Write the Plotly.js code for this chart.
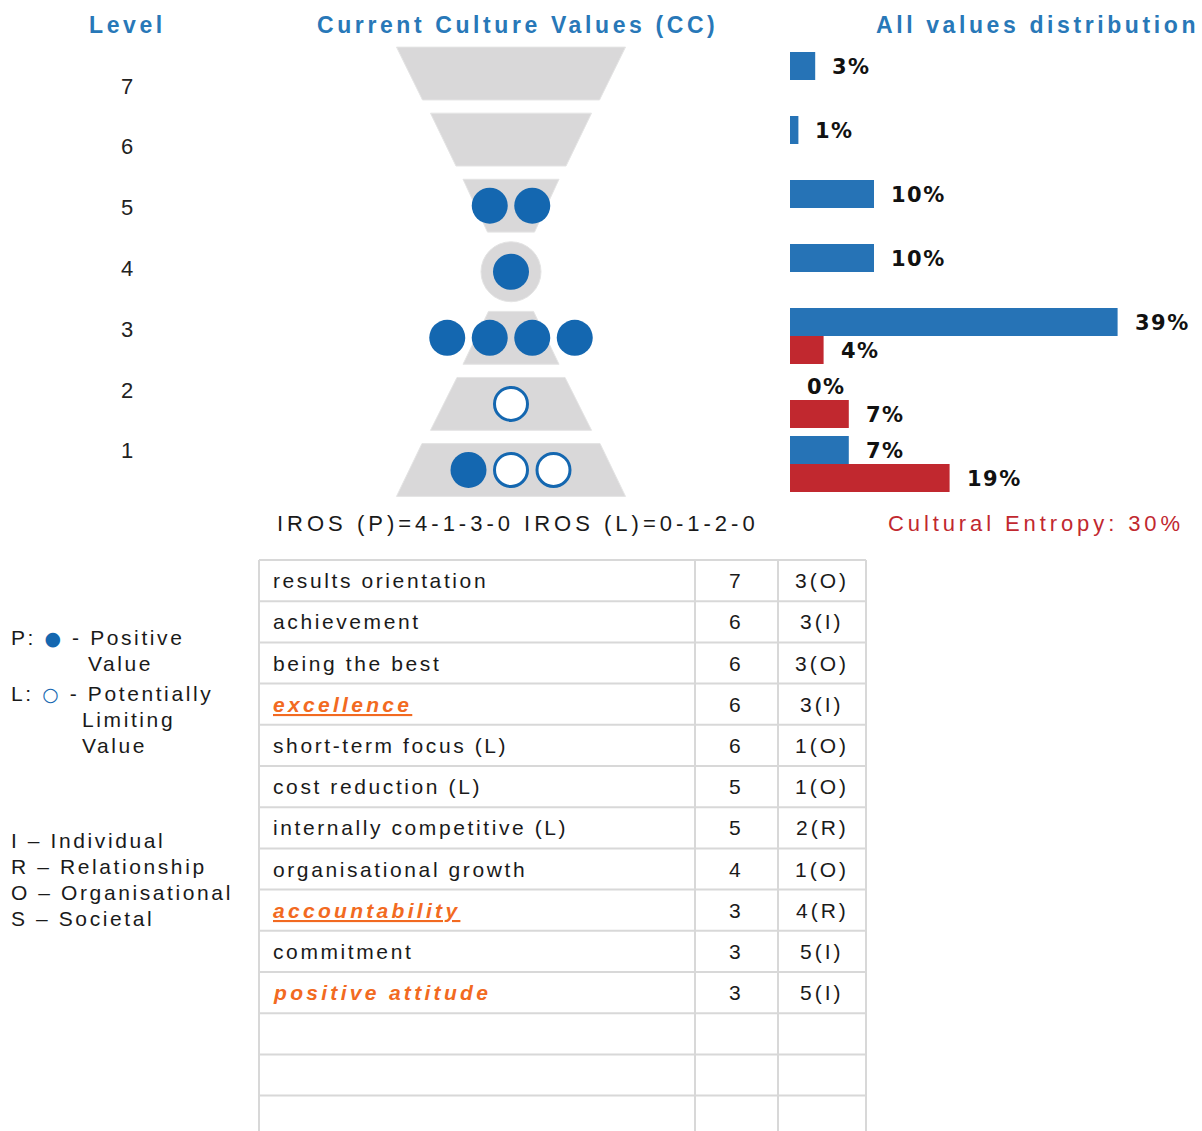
<!DOCTYPE html>
<html>
<head>
<meta charset="utf-8">
<script src="https://cdn.plot.ly/plotly-3.0.1.min.js"></script>
<style>
  body { margin: 0; }
</style>
</head>
<body>
<div id="plot"></div>
<script>
// levels, bottom to top
const levels = [1, 2, 3, 4, 5, 6, 7];

// dots in the funnel per level
const positiveDots = [1, 0, 4, 1, 2, 0, 0];
const limitingDots = [2, 1, 0, 0, 0, 0, 0];

// all values distribution (%) per level
const positivePct = [7, 0, 39, 10, 10, 1, 3];
const limitingPct = [19, 7, 4, 0, 0, 0, 0];

// current culture values table
const valueNames = ['results orientation', 'achievement', 'being the best', 'excellence',
  'short-term focus (L)', 'cost reduction (L)', 'internally competitive (L)',
  'organisational growth', 'accountability', 'commitment', 'positive attitude'];
const valueLevels = [7, 6, 6, 6, 6, 5, 5, 4, 3, 3, 3];
const valueVotes = ['3(O)', '3(I)', '3(O)', '3(I)', '1(O)', '1(O)', '2(R)', '1(O)', '4(R)', '5(I)', '5(I)'];
const emptyRows = 3;

const irosText = 'IROS (P)=4-1-3-0 IROS (L)=0-1-2-0';
const entropyText = 'Cultural Entropy: 30%';

// colours
const headBlue = '#2878b8';
const dotBlue = '#1467b0';
const barBlue = '#2673b6';
const barRed = '#c1282f';
const orange = '#f26a21';
const grey = '#d9d8d9';
const gridGrey = '#d8d8d8';

// funnel outline widths in px (top, bottom); level 4 is a circle
const funnelWidths = {1: [178, 229], 2: [108, 161], 3: [45, 96], 5: [96, 47], 6: [161, 110], 7: [229, 177]};
const dotStep = 42.5;

const W = 1202, H = 1131;
const px = v => v / W;
const py = v => 1 - v / H;

// funnel dots
let posX = [], posY = [], limX = [], limY = [];
levels.forEach((lv, k) => {
  const n = positiveDots[k] + limitingDots[k];
  for (let i = 0; i < n; i++) {
    const x = (i - (n - 1) / 2) * dotStep;
    if (i < positiveDots[k]) { posX.push(x); posY.push(lv); }
    else { limX.push(x); limY.push(lv); }
  }
});

let shapes = [];
levels.forEach(lv => {
  if (lv === 4) {
    shapes.push({type: 'circle', xref: 'x', yref: 'y', x0: -30, x1: 30, y0: lv - 0.454, y1: lv + 0.454,
      fillcolor: grey, line: {color: '#e4e4e4', width: 1}, layer: 'below'});
    return;
  }
  const t = funnelWidths[lv][0] / 2, b = funnelWidths[lv][1] / 2;
  shapes.push({
    type: 'path', xref: 'x', yref: 'y', layer: 'below',
    path: `M ${-t},${lv + 0.4} L ${t},${lv + 0.4} L ${b},${lv - 0.4} L ${-b},${lv - 0.4} Z`,
    fillcolor: grey, line: {color: '#e4e4e4', width: 1}
  });
});

const traces = [
  {
    type: 'scatter', mode: 'markers', x: posX, y: posY, xaxis: 'x', yaxis: 'y',
    marker: {size: 36, color: dotBlue, line: {width: 0}}, hoverinfo: 'skip'
  },
  {
    type: 'scatter', mode: 'markers', x: limX, y: limY, xaxis: 'x', yaxis: 'y',
    marker: {size: 33, color: 'white', line: {width: 3, color: dotBlue}}, hoverinfo: 'skip'
  },
  {
    type: 'scatter', mode: 'text', x: levels.map(() => 0.5), y: levels, text: levels.map(String),
    xaxis: 'x2', yaxis: 'y2', textposition: 'middle center',
    textfont: {family: 'Liberation Sans, Arial, sans-serif', size: 22, color: '#222'}, hoverinfo: 'skip'
  },
  {
    type: 'bar', orientation: 'h', y: levels, x: limitingPct, xaxis: 'x3', yaxis: 'y3',
    marker: {color: barRed}, hoverinfo: 'skip'
  },
  {
    type: 'bar', orientation: 'h', y: levels, x: positivePct, xaxis: 'x3', yaxis: 'y3',
    marker: {color: barBlue}, hoverinfo: 'skip'
  }
];

// annotations
const sp = (s, ls) => '<span style="letter-spacing:' + ls + 'px">' + s + '</span>';
const headFont = {family: 'Liberation Sans, Arial, sans-serif', size: 23, color: headBlue, weight: 'bold'};
const textFont = {family: 'Liberation Sans, Arial, sans-serif', size: 21, color: '#1a1a1a'};
let annotations = [
  {text: sp('Level', 3.6), x: px(127), y: py(25), font: headFont},
  {text: sp('Current Culture Values (CC)', 3.6), x: px(517), y: py(25), font: headFont},
  {text: sp('All values distribution', 3.6), x: px(1037), y: py(25), font: headFont},
  {text: sp(irosText, 4), x: px(518), y: py(523), font: Object.assign({}, textFont, {size: 22})},
  {text: sp(entropyText, 3.9), x: px(1036), y: py(523), font: Object.assign({}, textFont, {size: 22, color: barRed})}
];

// table, laid out on its own axis pair (one unit per row)
const tableRows = valueNames.length + emptyRows;
const rowH = 41.2;
const colEdges = [259, 695, 778, 866];
for (let k = 0; k <= tableRows; k++) {
  shapes.push({type: 'line', xref: 'x4', yref: 'y4', x0: colEdges[0], x1: colEdges[3], y0: k - 0.5, y1: k - 0.5,
    line: {color: gridGrey, width: 2}});
}
colEdges.forEach(e => {
  shapes.push({type: 'line', xref: 'x4', yref: 'y4', x0: e, x1: e, y0: -0.5, y1: tableRows - 0.5,
    line: {color: gridGrey, width: 2}});
});
function styledName(name) {
  if (name === 'excellence' || name === 'accountability') {
    return sp('<span style="color:' + orange + ';font-weight:bold;font-style:italic;text-decoration:underline">' + name + '</span>', 3.3);
  }
  if (name === 'positive attitude') {
    return sp('<span style="color:' + orange + ';font-weight:bold;font-style:italic">' + name + '</span>', 3.3);
  }
  return sp(name, 2.6);
}
valueNames.forEach((name, k) => {
  annotations.push({text: styledName(name), xref: 'x4', yref: 'y4', x: 271, y: k, xanchor: 'left', font: textFont});
  annotations.push({text: sp(String(valueLevels[k]), 2.5), xref: 'x4', yref: 'y4', x: 736, y: k, font: textFont});
  annotations.push({text: sp(valueVotes[k], 3), xref: 'x4', yref: 'y4', x: 822, y: k, font: textFont});
});

// legend
const glyph = g => '<span style="font-family:DejaVu Sans;font-size:19px;color:' + dotBlue + '">' + g + '</span>';
const legendLines = [
  ['P: ' + glyph('\u25CF') + ' - Positive', 9, 637],
  ['Value', 86, 663],
  ['L: ' + glyph('\u25CB') + ' - Potentially', 9, 693],
  ['Limiting', 80, 719],
  ['Value', 80, 746],
  ['I \u2013 Individual', 9, 840],
  ['R \u2013 Relationship', 9, 866],
  ['O \u2013 Organisational', 9, 892],
  ['S \u2013 Societal', 9, 918]
];
legendLines.forEach(l => {
  annotations.push({text: sp(l[0], 2.6), x: px(l[1]), y: py(l[2]), xanchor: 'left', font: textFont});
});

// bar value labels
const pctFont = {family: 'DejaVu Sans, sans-serif', size: 21, color: '#111', weight: 'bold'};
levels.forEach((lv, k) => {
  annotations.push({text: sp(positivePct[k] + '%', 1.5), xref: 'x3', yref: 'y3', x: positivePct[k], y: lv,
    yshift: 13, xanchor: 'left', xshift: 15, font: pctFont});
  if (limitingPct[k] > 0) {
    annotations.push({text: sp(limitingPct[k] + '%', 1.5), xref: 'x3', yref: 'y3', x: limitingPct[k], y: lv,
      yshift: -15, xanchor: 'left', xshift: 15, font: pctFont});
  }
});
annotations.forEach(a => {
  a.showarrow = false;
  if (!a.xref) { a.xref = 'paper'; a.yref = 'paper'; }
  if (!a.xanchor) a.xanchor = 'center';
  a.yanchor = 'middle';
});

const hidden = {visible: false, fixedrange: true};
const layout = {
  width: W, height: H,
  margin: {l: 0, r: 0, t: 0, b: 0},
  paper_bgcolor: 'white', plot_bgcolor: 'rgba(0,0,0,0)',
  showlegend: false,
  barmode: 'group', bargap: 0.125, bargroupgap: 0,
  xaxis: Object.assign({domain: [px(380), px(642)], range: [-131, 131], anchor: 'y'}, hidden),
  yaxis: Object.assign({domain: [py(503), py(40.5)], range: [0.5, 7.5], anchor: 'x'}, hidden),
  xaxis2: Object.assign({domain: [0, px(254)], range: [0, 1], anchor: 'y2'}, hidden),
  yaxis2: Object.assign({domain: [py(483.4), py(57.6)], range: [0.5, 7.5], anchor: 'x2'}, hidden),
  xaxis3: Object.assign({domain: [px(790), 1], range: [0, 412 / 8.4], anchor: 'y3'}, hidden),
  yaxis3: Object.assign({domain: [py(496), py(48)], range: [0.5, 7.5], anchor: 'x3'}, hidden),
  xaxis4: Object.assign({domain: [px(255), px(870)], range: [255, 870], anchor: 'y4'}, hidden),
  yaxis4: Object.assign({domain: [0, py(556)], range: [(H - 560) / rowH - 0.5, -0.5 - 4 / rowH], anchor: 'x4'}, hidden),
  shapes: shapes,
  annotations: annotations
};

Plotly.newPlot('plot', traces, layout, {displayModeBar: false, staticPlot: true});
</script>
</body>
</html>
